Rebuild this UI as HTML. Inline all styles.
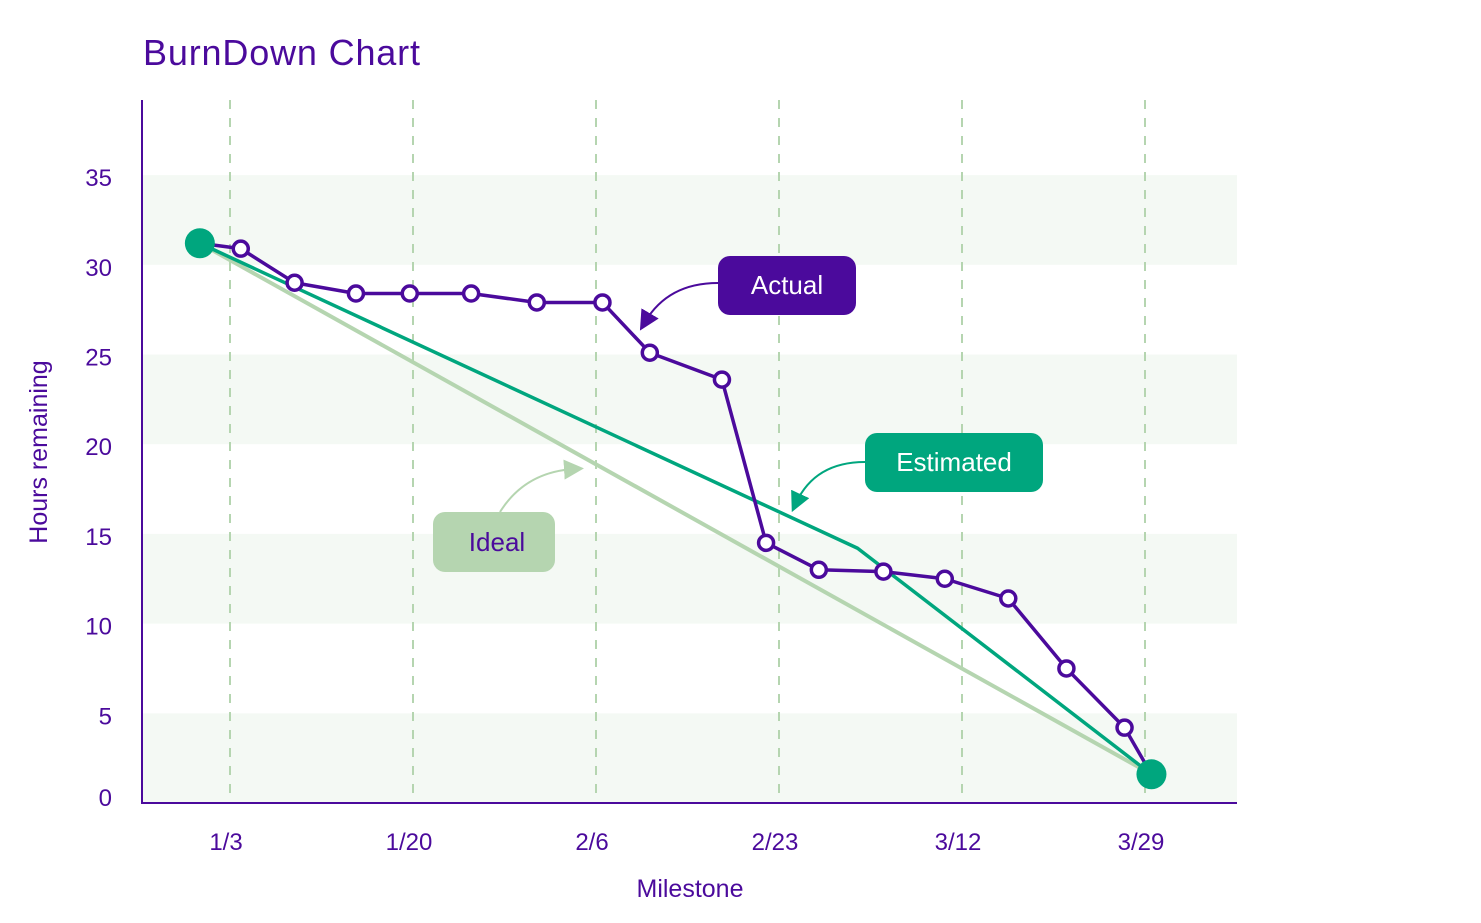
<!DOCTYPE html>
<html><head><meta charset="utf-8"><style>
html,body{margin:0;padding:0;background:#fff;}
svg{display:block;font-family:"Liberation Sans",sans-serif;}
</style></head><body>
<svg id="chart" width="1481" height="923" viewBox="0 0 1481 923">
<text x="143" y="65" font-size="36" fill="#4b0a9c" textLength="277">BurnDown Chart</text>
<g id="bands"></g><g id="grid"></g><g id="lines"></g><g id="marks"></g><g id="axes"></g>
<g>
<defs>
<marker id="ap" markerWidth="10" markerHeight="10" refX="5" refY="5" orient="auto"><path d="M0,0L10,5L0,10z" fill="#4b0a9c"/></marker>
<marker id="ag" markerWidth="10" markerHeight="10" refX="5" refY="5" orient="auto"><path d="M0,0L10,5L0,10z" fill="#00a67e"/></marker>
<marker id="al" markerWidth="10" markerHeight="10" refX="5" refY="5" orient="auto"><path d="M0,0L10,5L0,10z" fill="#b5d5b0"/></marker>
</defs>
<path d="M718,283 Q668,283 645,322" fill="none" stroke="#4b0a9c" stroke-width="2" marker-end="url(#ap)"/>
<rect x="718" y="256" width="138" height="59" rx="12" fill="#4b0a9c"/>
<text x="787" y="294" font-size="26" fill="#fff" text-anchor="middle">Actual</text>
<path d="M865,462 Q815,462 796,503" fill="none" stroke="#00a67e" stroke-width="2" marker-end="url(#ag)"/>
<rect x="865" y="433" width="178" height="59" rx="12" fill="#00a67e"/>
<text x="954" y="471" font-size="26" fill="#fff" text-anchor="middle">Estimated</text>
<path d="M500,512 Q525,472 574,469" fill="none" stroke="#b5d5b0" stroke-width="2" marker-end="url(#al)"/>
<rect x="433" y="512" width="122" height="60" rx="12" fill="#b5d5b0"/>
<text x="497" y="551" font-size="26" fill="#4b0a9c" text-anchor="middle">Ideal</text>
</g>
<text x="690" y="897" font-size="25" fill="#4b0a9c" text-anchor="middle">Milestone</text>
<text transform="translate(47,452) rotate(-90)" font-size="25" fill="#4b0a9c" text-anchor="middle">Hours remaining</text>
</svg>
<script>
const yTicks=[0,5,10,15,20,25,30,35];
const xTickDays=[3,20,37,54,71,88];
const xTickLabels=["1/3","1/20","2/6","2/23","3/12","3/29"];
const actualDays=[0.2,4,9,14.7,19.7,25.4,31.5,37.6,42,48.7,52.8,57.7,63.7,69.4,75.3,80.7,86.1,88.6];
const actualHours=[31.2,30.9,29.0,28.4,28.4,28.4,27.9,27.9,25.1,23.6,14.5,13.0,12.9,12.5,11.4,7.5,4.2,1.6];
const estimatedDays=[0.2,61.3,88.6];
const estimatedHours=[31.2,14.2,1.6];
const idealDays=[0.2,88.6];
const idealHours=[31.2,1.6];
const NS="http://www.w3.org/2000/svg";
const X=d=>230+(d-3)*(915/85);
const Y=v=>803-v*17.94;
function mk(t,a,p){const e=document.createElementNS(NS,t);for(const k in a)e.setAttribute(k,a[k]);p.appendChild(e);return e;}
const bands=document.getElementById('bands'),grid=document.getElementById('grid'),lines=document.getElementById('lines'),marks=document.getElementById('marks'),axes=document.getElementById('axes');
for(let i=0;i<yTicks.length-1;i+=2){const r=mk('rect',{x:142,y:Y(yTicks[i+1]),width:1095,height:Y(yTicks[i])-Y(yTicks[i+1]),fill:'#f4f9f4'},bands);

}
yTicks.forEach(v=>{const t=mk('text',{x:112,y:Y(v)+8+ (v>0?3:-5),'font-size':24,fill:'#4b0a9c','text-anchor':'end'},axes);t.textContent=v;

});
xTickDays.forEach((d,i)=>{const l=mk('line',{x1:X(d),x2:X(d),y1:100,y2:803,stroke:'#b5d5b0','stroke-width':2,'stroke-dasharray':'9 9'},grid);


const t=mk('text',{x:X(d)-4,y:850,'font-size':24,fill:'#4b0a9c','text-anchor':'middle'},axes);t.textContent=xTickLabels[i];

});
const ax=mk('path',{d:'M142,100V803H1237',fill:'none',stroke:'#4b0a9c','stroke-width':2},axes);


function poly(ds,hs,c,w,name){const p=mk('polyline',{points:ds.map((d,i)=>X(d)+','+Y(hs[i])).join(' '),fill:'none',stroke:c,'stroke-width':w,'stroke-linejoin':'round'},lines);

}
poly(idealDays,idealHours,'#b5d5b0',4,'ideal-line');
poly(estimatedDays,estimatedHours,'#00a67e',3.5,'estimated-line');
poly(actualDays,actualHours,'#4b0a9c',3.5,'actual-line');
for(let i=1;i<actualDays.length-1;i++){const c=mk('circle',{cx:X(actualDays[i]),cy:Y(actualHours[i]),r:7.5,fill:'#fff',stroke:'#4b0a9c','stroke-width':3.5},marks);

}
[0,estimatedDays.length-1].forEach(i=>{const c=mk('circle',{cx:X(estimatedDays[i]),cy:Y(estimatedHours[i]),r:15,fill:'#00a67e'},marks);

});
</script>
</body></html>
